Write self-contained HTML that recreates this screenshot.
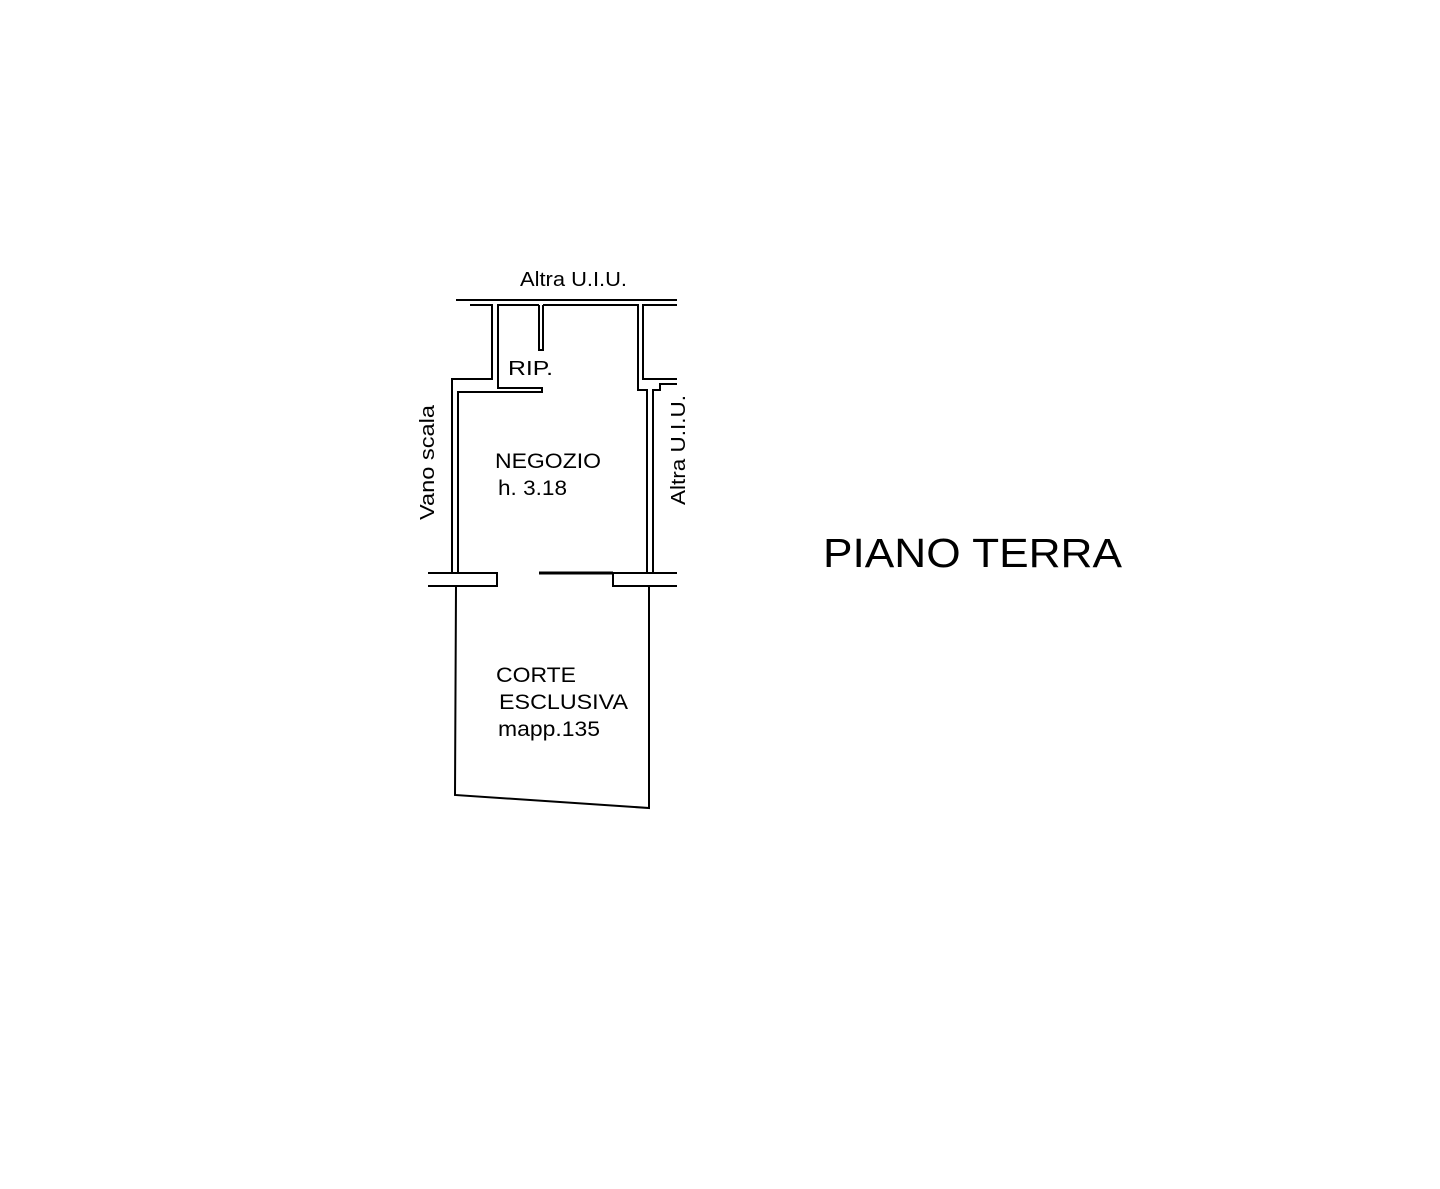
<!DOCTYPE html>
<html><head><style>
html,body{margin:0;padding:0;background:#fff;}
svg{display:block;}
text{font-family:"Liberation Sans",Arial,sans-serif;fill:#000;}
</style></head><body>
<svg width="1440" height="1189" viewBox="0 0 1440 1189" xmlns="http://www.w3.org/2000/svg">
<g fill="none" stroke="#000" stroke-width="2">
<line x1="456" y1="300" x2="677" y2="300"/>
<polyline points="470,305 492,305 492,379 452,379 452,573"/>
<polyline points="539,305 498,305 498,388 542,388 542,392 458,392 458,573"/>
<polyline points="543,305 543,350 539,350 539,305"/>
<polyline points="543,305 638,305 638,390 647,390 647,573"/>
<polyline points="677,305 643,305 643,379 677,379"/>
<polyline points="677,384 660,384 660,390 653,390 653,573"/>
<polyline points="428,573 497,573 497,586 428,586"/>
<polyline points="677,573 613,573 613,586 677,586"/>
<polyline points="456,586 455,795 649,808 649,586"/>
</g>
<line x1="539" y1="573" x2="613" y2="573" stroke="#000" stroke-width="3"/>
<text x="520" y="286" font-size="20" textLength="107" lengthAdjust="spacingAndGlyphs">Altra U.I.U.</text>
<text x="508" y="375" font-size="20" textLength="45" lengthAdjust="spacingAndGlyphs">RIP.</text>
<text x="495" y="468" font-size="21" textLength="106" lengthAdjust="spacingAndGlyphs">NEGOZIO</text>
<text x="498" y="495" font-size="21" textLength="69" lengthAdjust="spacingAndGlyphs">h. 3.18</text>
<text x="496" y="682" font-size="21" textLength="80" lengthAdjust="spacingAndGlyphs">CORTE</text>
<text x="499" y="709" font-size="21" textLength="129" lengthAdjust="spacingAndGlyphs">ESCLUSIVA</text>
<text x="498" y="736" font-size="21" textLength="102" lengthAdjust="spacingAndGlyphs">mapp.135</text>
<text transform="translate(434,520) rotate(-90)" font-size="20" textLength="115" lengthAdjust="spacingAndGlyphs">Vano scala</text>
<text transform="translate(685,505) rotate(-90)" font-size="20" textLength="110" lengthAdjust="spacingAndGlyphs">Altra U.I.U.</text>
<text x="823" y="567" font-size="41" textLength="299" lengthAdjust="spacingAndGlyphs">PIANO TERRA</text>
</svg>
</body></html>
